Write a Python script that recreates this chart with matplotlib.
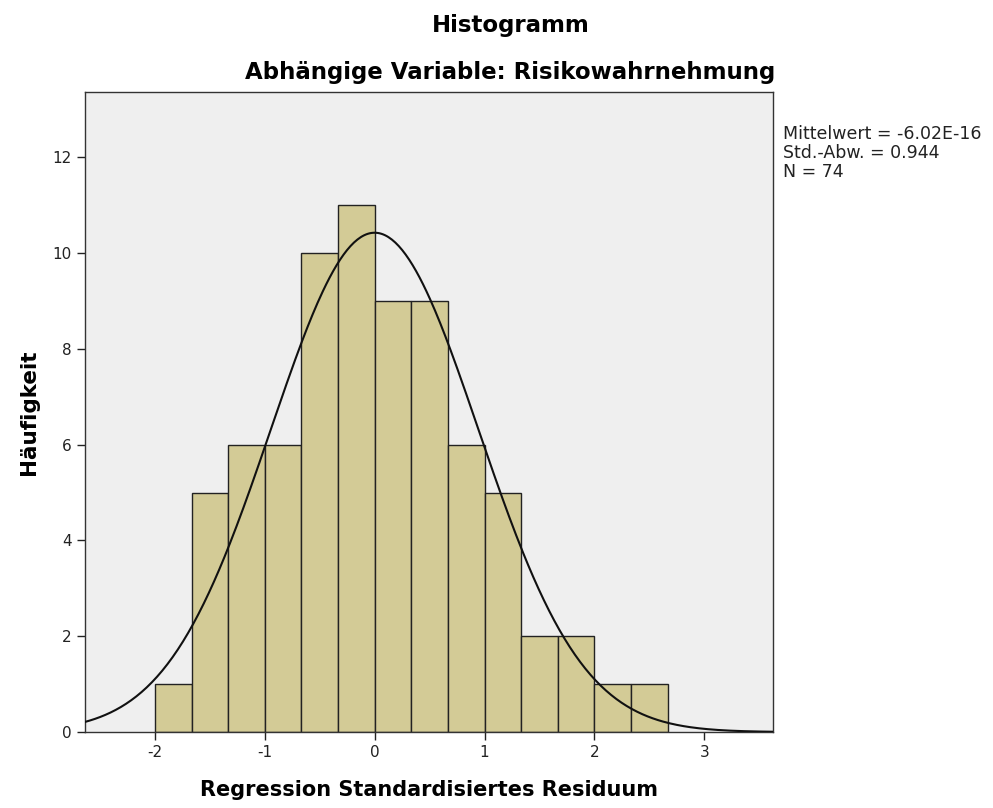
import numpy as np
import matplotlib.pyplot as plt

# histogram data
bin_edges = np.arange(-2, 2.67 + 0.01, 1/3)
counts = [1, 5, 6, 6, 10, 11, 9, 9, 6, 5, 2, 2, 1, 1]
mean = -6.02e-16
std = 0.944
n = 74
stats_lines = ["Mittelwert = -6.02E-16", "Std.-Abw. = 0.944", "N = 74"]
yticks = [0, 2, 4, 6, 8, 10, 12]
xticks = [-2, -1, 0, 1, 2, 3]

plt.rcParams['font.family'] = ['DejaVu Sans']
plt.rcParams['axes.unicode_minus'] = False

fig = plt.figure(figsize=(9.93, 8.08), dpi=100)
ax = fig.add_axes([0.0856, 0.094, 0.693, 0.792])
ax.set_facecolor('#EFEFEF')

widths = np.diff(bin_edges[:len(counts) + 1])
ax.bar(bin_edges[:len(counts)], counts, width=widths, align='edge',
       color='#D3CB96', edgecolor='#222222', linewidth=1.0, zorder=2)

# normal curve scaled to counts
xs = np.linspace(-2.64, 3.63, 400)
bw = 1/3
ys = n * bw * np.exp(-0.5 * ((xs - mean) / std) ** 2) / (std * np.sqrt(2 * np.pi))
ax.plot(xs, ys, color='#111111', linewidth=1.5, zorder=3)

ax.set_xlim(-2.636, 3.627)
ax.set_ylim(0, 13.36)
ax.set_xticks(xticks)
ax.set_yticks(yticks)
ax.tick_params(direction='out', length=6, width=1, labelsize=11, colors='#222222')
for s in ax.spines.values():
    s.set_color('#333333')
    s.set_linewidth(1.0)

ax.set_xlabel('Regression Standardisiertes Residuum', fontsize=15, fontweight='bold', labelpad=14)
ax.set_ylabel('Häufigkeit', fontsize=15.5, fontweight='bold', labelpad=10)

fig.text(0.514, 0.969, 'Histogramm', ha='center', va='center', fontsize=16.5, fontweight='bold')
fig.text(0.514, 0.910, 'Abhängige Variable: Risikowahrnehmung', ha='center', va='center',
         fontsize=16.5, fontweight='bold')

fig.text(0.789, 0.845, '\n'.join(stats_lines), ha='left', va='top', fontsize=12.5,
         linespacing=1.05, color='#222222')

fig.savefig('out.png', dpi=100)
